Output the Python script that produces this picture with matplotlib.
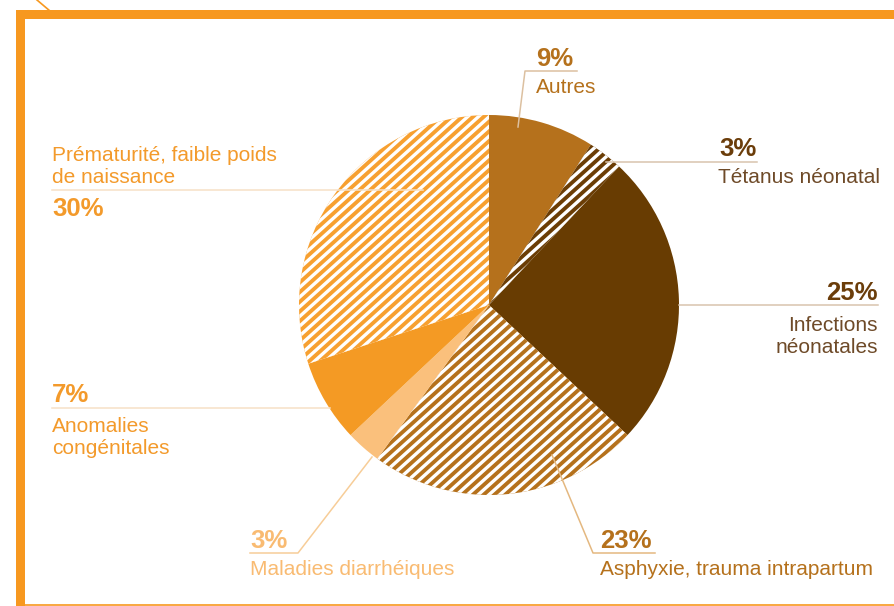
import numpy as np
import matplotlib
matplotlib.use("Agg")
import matplotlib.pyplot as plt
from matplotlib.patches import Rectangle

W, H = 894, 606

# causes of neonatal deaths, clockwise from the top
labels = ["Autres", "Tétanus néonatal", "Infections\nnéonatales",
          "Asphyxie, trauma intrapartum", "Maladies diarrhéiques",
          "Anomalies\ncongénitales", "Prématurité, faible poids\nde naissance"]
shares = [9, 3, 25, 23, 3, 7, 30]
slice_colors = ["#B5711C", "#6B3D05", "#683C02", "#B5711C", "#FAC07C", "#F49A24", "#F7A030"]
hatched = [False, True, False, True, False, False, True]
text_colors = ["#B5711C", "#6B3D0A", "#6B3D0A", "#B5711C", "#F9BB72", "#F39A2B", "#F39A2B"]
line_colors = ["#DCC0A0", "#D8C4AE", "#D8C4AE", "#E4B880", "#F7CD98", "#F6E0C6", "#F6E0C6"]

plt.rcParams["font.family"] = ["Liberation Sans", "DejaVu Sans"]

fig = plt.figure(figsize=(W / 100, H / 100), dpi=100)
ax = fig.add_axes([0, 0, 1, 1])


def Y(y):
    # pixel rows counted from the top
    return H - y


cx, cy, r = 489, 305, 190
wedges, _ = ax.pie(shares, colors=slice_colors, startangle=90, counterclock=False,
                   center=(cx, Y(cy)), radius=r, wedgeprops=dict(linewidth=0))
ax.set_xlim(0, W)
ax.set_ylim(0, H)
ax.set_aspect("auto")
ax.axis("off")


def stripe(wedge, period, angle, lw):
    a = np.radians(angle)
    d = np.array([np.cos(a), np.sin(a)])
    n = np.array([-np.sin(a), np.cos(a)])
    c = np.array([cx, Y(cy)])
    for k in np.arange(-1.5 * r, 1.5 * r, period):
        p0 = c + k * n - 1.5 * r * d
        p1 = c + k * n + 1.5 * r * d
        ln, = ax.plot([p0[0], p1[0]], [p0[1], p1[1]], color="white", lw=lw,
                      solid_capstyle="butt")
        ln.set_clip_path(wedge)


for w, h in zip(wedges, hatched):
    if h:
        stripe(w, 7.2, 42, 2.4)

pct_kw = dict(fontsize=18.5, fontweight="bold")
lab_kw = dict(fontsize=15, linespacing=1.2)

# Autres
ax.plot([518, 525, 577], [Y(127), Y(71), Y(71)], color=line_colors[0], lw=1.1)
ax.text(536, Y(66), f"{shares[0]}%", color=text_colors[0], **pct_kw)
ax.text(536, Y(93), labels[0], color=text_colors[0], **lab_kw)

# Tétanus néonatal
ax.plot([606, 757], [Y(162), Y(162)], color=line_colors[1], lw=1.1)
ax.text(757, Y(156), f"{shares[1]}%", color=text_colors[1], ha="right", **pct_kw)
ax.text(718, Y(183), labels[1], color="#6E4A28", **lab_kw)

# Infections néonatales
ax.plot([679, 878], [Y(305), Y(305)], color=line_colors[2], lw=1.1)
ax.text(878, Y(300), f"{shares[2]}%", color=text_colors[2], ha="right", **pct_kw)
ax.text(878, Y(353), labels[2], color="#6E4A28", ha="right", va="baseline", **lab_kw)

# Asphyxie
ax.plot([552, 593, 655], [Y(455), Y(553), Y(553)], color=line_colors[3], lw=1.1)
ax.text(600, Y(548), f"{shares[3]}%", color=text_colors[3], **pct_kw)
ax.text(600, Y(575), labels[3], color=text_colors[3], **lab_kw)

# Maladies diarrhéiques
ax.plot([372, 298, 250], [Y(457), Y(553), Y(553)], color=line_colors[4], lw=1.1)
ax.text(250, Y(548), f"{shares[4]}%", color=text_colors[4], **pct_kw)
ax.text(250, Y(575), labels[4], color=text_colors[4], **lab_kw)

# Anomalies congénitales
ax.plot([52, 330], [Y(408), Y(408)], color=line_colors[5], lw=1.1)
ax.text(52, Y(402), f"{shares[5]}%", color=text_colors[5], **pct_kw)
ax.text(52, Y(454), labels[5], color=text_colors[5], va="baseline", **lab_kw)

# Prématurité
ax.plot([52, 423], [Y(190), Y(190)], color=line_colors[6], lw=1.1, zorder=3)
ax.text(52, Y(216), f"{shares[6]}%", color=text_colors[6], **pct_kw)
ax.text(52, Y(183), labels[6], color=text_colors[6], va="baseline", **lab_kw)

# orange frame
frame = "#F7981F"
ax.add_patch(Rectangle((16, Y(19)), W - 16, 9, color=frame, lw=0))
ax.add_patch(Rectangle((16, 0), 9, Y(10), color=frame, lw=0))
ax.plot([25, W], [Y(605), Y(605)], color=frame, lw=1.2)
ax.plot([37, 50], [Y(0), Y(11)], color=frame, lw=1.2)

fig.savefig("out.png", dpi=100)
